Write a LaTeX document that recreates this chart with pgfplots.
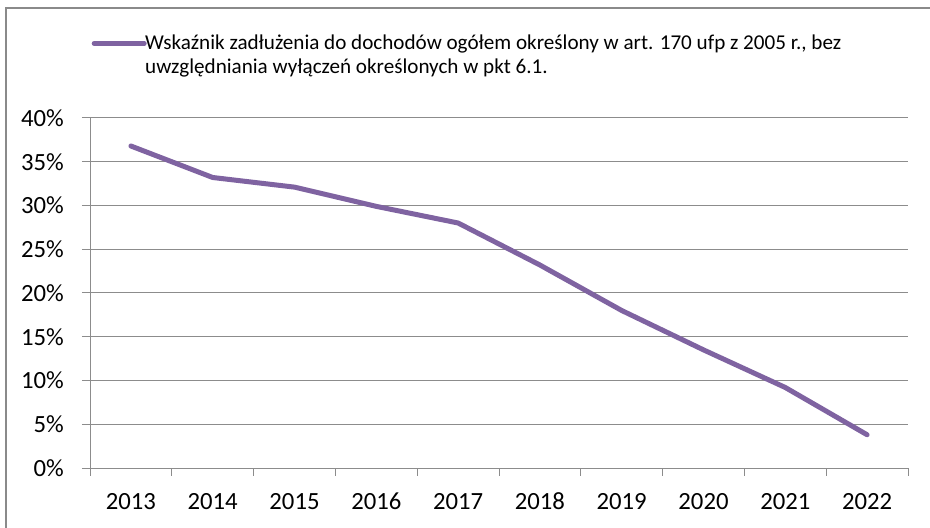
\documentclass[border=0pt]{standalone}
\usepackage{fontspec}
\setmainfont{Carlito}
\usepackage{pgfplots}
\pgfplotsset{compat=1.18}
\definecolor{lineP}{HTML}{7F63A1}
\definecolor{gridG}{HTML}{8C8C8C}
\definecolor{frameG}{HTML}{8A8A8A}
\begin{document}
\begin{tikzpicture}
\useasboundingbox (0bp,0bp) rectangle (930bp,528bp);
\draw[frameG, line width=2bp] (6bp,0bp) -- (6bp,520bp) -- (931bp,520bp);
\begin{axis}[
  at={(90bp,60bp)}, anchor=south west,
  scale only axis, width=818bp, height=350bp,
  xmin=-0.5, xmax=9.5, ymin=0, ymax=40,
  xtick={-0.5,0.5,...,9.5},
  x tick label as interval,
  xticklabels={2013,2014,2015,2016,2017,2018,2019,2020,2021,2022},
  ytick={0,5,...,40},
  yticklabel={\pgfmathprintnumber{\tick}\%},
  /pgf/number format/assume math mode=true,
  axis x line*=bottom, axis y line*=left,
  axis line style={draw=gridG, line width=1bp},
  tick align=outside, major tick length=8bp,
  tick style={draw=gridG, line width=1bp},
  ymajorgrids, major grid style={draw=gridG, line width=1bp},
  tick label style={font=\fontsize{24.8}{29}\selectfont, text=black},
  yticklabel style={anchor=east, inner sep=0pt, xshift=-18bp},
  xticklabel style={anchor=base, inner sep=0pt, yshift=-33bp},
  legend style={at={(0.0049,1.245)}, anchor=north west, draw=none, fill=none,
    inner sep=0pt, column sep=0pt,
    font=\fontsize{21.2}{24}\selectfont,
    cells={align=left, inner sep=1bp}},
  legend image code/.code={\path[draw=none] (0bp,0bp) -- (49bp,0bp); \draw[#1,overlay] (0bp,11bp) -- (50bp,11bp);},
]
\addplot[color=lineP, line width=5bp, line cap=round, line join=round]
  coordinates {(0,36.8)(1,33.2)(2,32.1)(3,29.9)(4,28.0)(5,23.2)(6,18.0)(7,13.5)(8,9.2)(9,3.8)};
\addlegendentry{Wskaźnik zadłużenia do dochodów ogółem określony w art. 170 ufp z 2005 r., bez\\uwzględniania wyłączeń określonych w pkt 6.1.}
\end{axis}
\end{tikzpicture}
\end{document}
